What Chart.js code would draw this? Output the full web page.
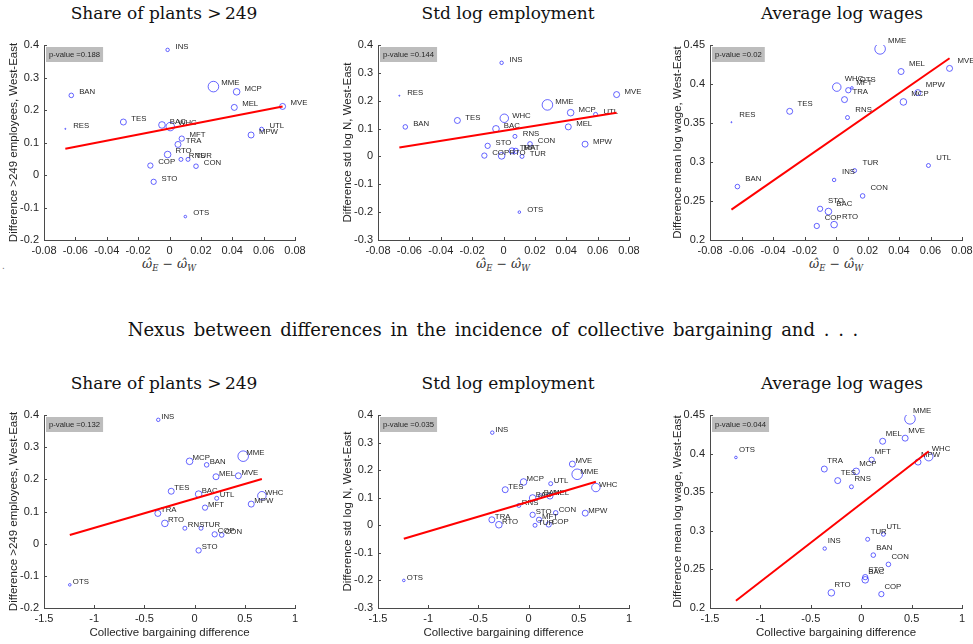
<!DOCTYPE html>
<html>
<head>
<meta charset="utf-8">
<script src="https://cdn.jsdelivr.net/npm/chart.js@4.4.1/dist/chart.umd.min.js"></script>
<style>
html,body{margin:0;padding:0;background:#fff;}
#fig{position:relative;width:973px;height:644px;overflow:hidden;background:#fff;}
canvas{position:absolute;}
.ttl{position:absolute;font-family:"DejaVu Serif",serif;font-size:17px;line-height:20px;color:#111;white-space:nowrap;transform:translateX(-50%);}
.mid{font-size:18px;word-spacing:3px;}
.xt{position:absolute;font-family:"DejaVu Serif",serif;font-style:italic;font-size:12.5px;line-height:16px;color:#333;white-space:nowrap;transform:translateX(-50%);}
.xt sub{font-size:8.5px;line-height:0;vertical-align:-3px;}
.dot{position:absolute;left:2px;top:260px;font-family:"Liberation Sans",sans-serif;font-size:10px;color:#777;}
</style>
</head>
<body>
<div id="fig">
  <div class="ttl" style="left:164px;top:3px;">Share of plants &gt;&thinsp;249</div>
  <div class="ttl" style="left:508px;top:3px;">Std log employment</div>
  <div class="ttl" style="left:842px;top:3px;">Average log wages</div>
  <div class="ttl mid" style="left:493px;top:320px;">Nexus between differences in the incidence of collective bargaining and . . .</div>
  <div class="ttl" style="left:164px;top:373px;">Share of plants &gt;&thinsp;249</div>
  <div class="ttl" style="left:508px;top:373px;">Std log employment</div>
  <div class="ttl" style="left:842px;top:373px;">Average log wages</div>
  <div class="xt" style="left:169px;top:256px;">ω̂<sub>E</sub> − ω̂<sub>W</sub></div>
  <div class="xt" style="left:503px;top:256px;">ω̂<sub>E</sub> − ω̂<sub>W</sub></div>
  <div class="xt" style="left:836px;top:256px;">ω̂<sub>E</sub> − ω̂<sub>W</sub></div>
  <div class="dot">.</div>
  <canvas id="c1" width="320" height="250" style="left:0px;top:30px;"></canvas>
  <canvas id="c2" width="316" height="250" style="left:334px;top:30px;"></canvas>
  <canvas id="c3" width="309" height="250" style="left:664px;top:30px;"></canvas>
  <canvas id="c4" width="320" height="244" style="left:0px;top:400px;"></canvas>
  <canvas id="c5" width="316" height="244" style="left:334px;top:400px;"></canvas>
  <canvas id="c6" width="309" height="244" style="left:664px;top:400px;"></canvas>
</div>
<script>
// ---------------- DATA ----------------
const sectors      = ['INS','MME','MCP','MEL','MVE','UTL','MPW','BAN','RES','TES','BAC','WHC','MFT','TRA','RTO','RNS','TUR','COP','CON','STO','OTS'];
const omegaDiff    = [-0.0012, 0.028, 0.0428, 0.0413, 0.0721, 0.0587, 0.052, -0.0626, -0.0664, -0.0294, -0.0048, 0.0005, 0.0078, 0.0054, -0.0012, 0.0073, 0.0118, -0.0122, 0.0169, -0.0101, 0.0101];
const cbDiff       = [-0.362, 0.484, -0.05, 0.213, 0.436, 0.22, 0.564, 0.12, null, -0.233, 0.04, 0.67, 0.104, -0.366, -0.296, -0.097, 0.064, 0.2, 0.27, 0.04, -1.243];
const share249     = [0.385, 0.272, 0.256, 0.208, 0.211, 0.141, 0.123, 0.245, 0.142, 0.163, 0.154, 0.149, 0.112, 0.094, 0.063, 0.048, 0.048, 0.029, 0.027, -0.021, -0.128];
const stdLogN      = [0.336, 0.185, 0.157, 0.106, 0.222, 0.151, 0.044, 0.106, 0.218, 0.129, 0.099, 0.137, 0.02, 0.02, 0.002, 0.072, 0.0, 0.003, 0.045, 0.038, -0.2];
const meanLogWage  = [0.277, 0.445, 0.377, 0.416, 0.420, 0.2955, 0.389, 0.2685, 0.351, 0.365, 0.2365, 0.396, 0.392, 0.380, 0.2197, 0.357, 0.289, 0.218, 0.2565, 0.240, 0.395];
const sectorWeight = [3, 28, 11, 9, 9, 4, 9, 5.3, 0.3, 9, 11, 18, 7, 9, 11, 4, 4, 7, 5.3, 7, 1.7];

const xTicksOmega = [-0.08, -0.06, -0.04, -0.02, 0, 0.02, 0.04, 0.06, 0.08];
const xTicksCB    = [-1.5, -1, -0.5, 0, 0.5, 1];
const yTicksShare = [-0.2, -0.1, 0, 0.1, 0.2, 0.3, 0.4];
const yTicksStd   = [-0.3, -0.2, -0.1, 0, 0.1, 0.2, 0.3, 0.4];
const yTicksWage  = [0.2, 0.25, 0.3, 0.35, 0.4, 0.45];

const fitXOmega     = [-0.0664, 0.0721];
const fitXCB        = [-1.243, 0.67];
const fitShareOmega = [0.081, 0.211];
const fitStdOmega   = [0.032, 0.157];
const fitWageOmega  = [0.239, 0.433];
const fitShareCB    = [0.027, 0.201];
const fitStdCB      = [-0.049, 0.158];
const fitWageCB     = [0.2095, 0.403];

const pValues = ['0.188', '0.144', '0.02', '0.132', '0.035', '0.044'];
const yTitles = ['Difference >249 employees, West-East', 'Difference std log N, West-East', 'Difference mean log wage, West-East'];
const xTitleCB = 'Collective bargaining difference';

// ---------------- STYLE ----------------
const AXIS = '#4a4a4a';
const TXT = '#262626';
const SANS = '"Liberation Sans", Arial, Helvetica, sans-serif';

const inwardTicks = {
  id: 'inwardTicks',
  afterDraw(chart) {
    const {ctx, chartArea: a, scales: {x, y}} = chart;
    ctx.save();
    ctx.strokeStyle = AXIS; ctx.lineWidth = 1;
    ctx.beginPath();
    x.ticks.forEach(t => { const px = Math.round(x.getPixelForValue(t.value)) + 0.5; ctx.moveTo(px, a.bottom); ctx.lineTo(px, a.bottom - 3); });
    y.ticks.forEach(t => { const py = Math.round(y.getPixelForValue(t.value)) + 0.5; ctx.moveTo(a.left, py); ctx.lineTo(a.left + 3, py); });
    ctx.stroke();
    ctx.restore();
  }
};

const pointLabels = {
  id: 'pointLabels',
  afterDatasetDraw(chart, args, opts) {
    if (args.index !== 1) return;
    const {ctx, scales: {x, y}} = chart;
    ctx.save();
    ctx.font = '7.8px ' + SANS;
    ctx.fillStyle = TXT;
    ctx.textAlign = 'left';
    ctx.textBaseline = 'middle';
    chart.data.datasets[1].data.forEach(p => {
      ctx.fillText(p.label, x.getPixelForValue(p.x + opts.dx), y.getPixelForValue(p.y + opts.dy));
    });
    ctx.restore();
  }
};

const pBox = {
  id: 'pBox',
  afterDraw(chart, args, opts) {
    const {ctx, chartArea: a} = chart;
    ctx.save();
    ctx.font = '7.7px ' + SANS;
    const w = ctx.measureText(opts.text).width + 6;
    ctx.fillStyle = '#bdbdbd';
    ctx.fillRect(a.left + 2, a.top + 2, w, 15);
    ctx.fillStyle = TXT;
    ctx.textBaseline = 'middle';
    ctx.textAlign = 'left';
    ctx.fillText(opts.text, a.left + 5, a.top + 9.5);
    ctx.restore();
  }
};

function fmt(v) {
  const r = Math.round(v * 10000) / 10000;
  return r === 0 ? '0' : String(r);
}

const geom = {
  c1: {padR: 25, yW: 44, xH: 40}, c2: {padR: 21, yW: 44, xH: 40}, c3: {padR: 11, yW: 46, xH: 40},
  c4: {padR: 25, yW: 44, xH: 36}, c5: {padR: 21, yW: 44, xH: 36}, c6: {padR: 11, yW: 46, xH: 36}
};

const panels = [
  {id: 'c1', xs: omegaDiff, ys: share249,    xt: xTicksOmega, yt: yTicksShare, fx: fitXOmega, fy: fitShareOmega, p: pValues[0], yTitle: yTitles[0], xTitle: null,     dx: 0.005},
  {id: 'c2', xs: omegaDiff, ys: stdLogN,     xt: xTicksOmega, yt: yTicksStd,   fx: fitXOmega, fy: fitStdOmega,   p: pValues[1], yTitle: yTitles[1], xTitle: null,     dx: 0.005},
  {id: 'c3', xs: omegaDiff, ys: meanLogWage, xt: xTicksOmega, yt: yTicksWage,  fx: fitXOmega, fy: fitWageOmega,  p: pValues[2], yTitle: yTitles[2], xTitle: null,     dx: 0.005},
  {id: 'c4', xs: cbDiff,    ys: share249,    xt: xTicksCB,    yt: yTicksShare, fx: fitXCB,    fy: fitShareCB,    p: pValues[3], yTitle: yTitles[0], xTitle: xTitleCB, dx: 0.03},
  {id: 'c5', xs: cbDiff,    ys: stdLogN,     xt: xTicksCB,    yt: yTicksStd,   fx: fitXCB,    fy: fitStdCB,      p: pValues[4], yTitle: yTitles[1], xTitle: xTitleCB, dx: 0.03},
  {id: 'c6', xs: cbDiff,    ys: meanLogWage, xt: xTicksCB,    yt: yTicksWage,  fx: fitXCB,    fy: fitWageCB,     p: pValues[5], yTitle: yTitles[2], xTitle: xTitleCB, dx: 0.03}
];

panels.forEach(p => {
  const g = geom[p.id];
  const pts = sectors.map((s, i) => ({x: p.xs[i], y: p.ys[i], label: s, w: sectorWeight[i]}))
                     .filter(d => d.x !== null && d.y !== null);
  new Chart(document.getElementById(p.id), {
    type: 'scatter',
    data: {
      datasets: [
        {type: 'line', data: [{x: p.fx[0], y: p.fy[0]}, {x: p.fx[1], y: p.fy[1]}],
         borderColor: '#ff0000', borderWidth: 2, pointRadius: 0, fill: false, showLine: true, tension: 0},
        {data: pts, showLine: false,
         pointRadius: c => Math.sqrt(c.raw.w),
         pointBorderColor: 'rgba(0,0,255,0.6)', pointBackgroundColor: 'rgba(0,0,0,0)', pointBorderWidth: 1}
      ]
    },
    options: {
      responsive: false, animation: false, events: [],
      layout: {padding: {left: 0, right: g.padR, top: 15, bottom: 0}},
      plugins: {
        legend: {display: false}, tooltip: {enabled: false},
        pointLabels: {dx: p.dx, dy: 0.01},
        pBox: {text: 'p-value =' + p.p}
      },
      scales: {
        x: {
          type: 'linear', position: 'bottom', min: p.xt[0], max: p.xt[p.xt.length - 1],
          afterBuildTicks: s => { s.ticks = p.xt.map(v => ({value: v})); },
          grid: {display: false, drawTicks: false},
          border: {display: true, color: AXIS, width: 1},
          ticks: {font: {family: SANS, size: 11}, color: TXT, padding: 4, maxRotation: 0, autoSkip: false, callback: fmt},
          title: {display: !!p.xTitle, text: p.xTitle || '', font: {family: SANS, size: 11.5}, color: TXT, padding: {top: 0, bottom: 4}},
          afterFit: s => { s.height = g.xH; s.paddingLeft = 0; s.paddingRight = 0; }
        },
        y: {
          type: 'linear', position: 'left', min: p.yt[0], max: p.yt[p.yt.length - 1],
          afterBuildTicks: s => { s.ticks = p.yt.map(v => ({value: v})); },
          grid: {display: false, drawTicks: false},
          border: {display: true, color: AXIS, width: 1},
          ticks: {font: {family: SANS, size: 11}, color: TXT, padding: 5, autoSkip: false, callback: fmt},
          title: {display: true, text: p.yTitle, font: {family: SANS, size: 11.5}, color: TXT, padding: {top: 7, bottom: 0}},
          afterFit: s => { s.width = g.yW; s.paddingTop = 0; s.paddingBottom = 0; }
        }
      }
    },
    plugins: [inwardTicks, pointLabels, pBox]
  });
});
</script>
</body>
</html>
